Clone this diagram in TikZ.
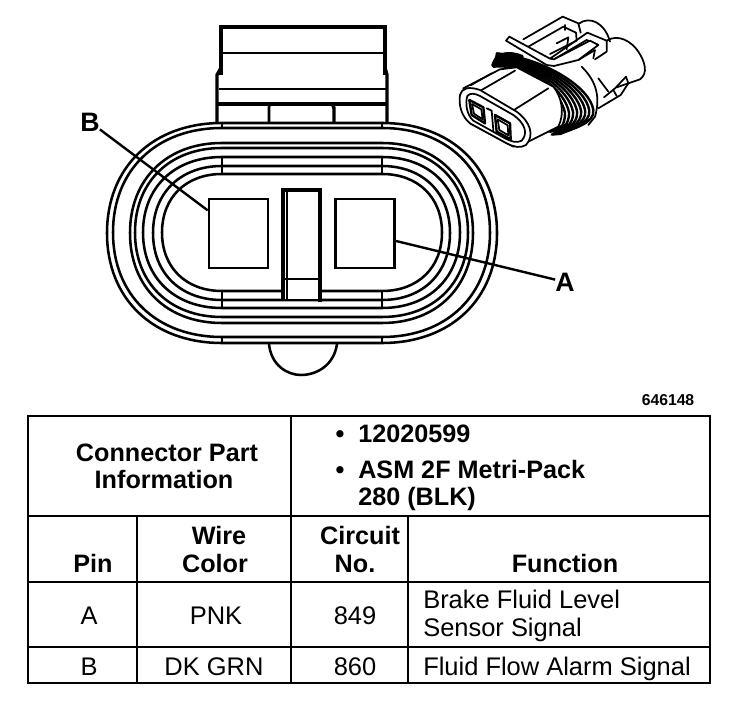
\documentclass[tikz,border=0pt]{standalone}
\usepackage{fontspec}
\setmainfont{Liberation Sans}
\newcommand\ringd[4]{%
 \pgfmathsetmacro\ka{222-0.6*(222-#1)}%
 \pgfmathsetmacro\kb{382+0.6*(#2-382)}%
 \pgfmathsetmacro\my{(#3+#4)/2}%
 \pgfmathsetmacro\kc{\my-0.6*(\my-#3)}%
 \pgfmathsetmacro\kd{\my+0.6*(#4-\my)}%
 \draw[ringline] (222,#3) -- (382,#3) .. controls (\kb,#3) and (#2,\kc) .. (#2,\my) .. controls (#2,\kd) and (\kb,#4) .. (382,#4) -- (222,#4) .. controls (\ka,#4) and (#1,\kd) .. (#1,\my) .. controls (#1,\kc) and (\ka,#3) .. cycle;}
\tikzset{
 ringline/.style={line width=1.9pt},
 heavy/.style={line width=2.6pt},
 medium/.style={line width=1.9pt},
 thin line/.style={line width=1.1pt},
 grid line/.style={line width=2.1pt},
 pinbox/.style={draw,line width=2pt,minimum width=44.25pt,minimum height=51.75pt,inner sep=0pt},
 calllabel/.style={font=\fontsize{20}{20}\selectfont\bfseries,inner sep=0pt},
 leader/.style={line width=1.8pt},
 headtext/.style={anchor=base,inner sep=0pt,font=\fontsize{18.9}{20}\selectfont\bfseries},
 celltext/.style={anchor=base,inner sep=0pt,font=\fontsize{19.1}{20}\selectfont},
 headleft/.style={headtext,anchor=base west},
 cellleft/.style={celltext,anchor=base west},
 codetext/.style={anchor=base,inner sep=0pt,font=\fontsize{11.8}{12}\selectfont\bfseries},
 sketch/.style={line width=1.3pt,line join=round,line cap=round},
 sketchthick/.style={line width=1.8pt,line join=round,line cap=round},
}
\begin{document}
\begin{tikzpicture}[x=0.75pt,y=-0.75pt]
\useasboundingbox (0,0) rectangle (752,712);
% rings
\ringd{107}{497}{123}{343}
\ringd{113}{490}{128}{337}
\ringd{130}{473}{143}{323}
\ringd{135}{468}{148}{317}
\ringd{143}{460}{157}{308}
\ringd{153}{450}{166}{300}
\ringd{162}{442}{174}{291}
% ticks
\foreach \xx in {222,382}{
 \draw[thin line] (\xx,123) -- (\xx,128);
 \draw[thin line] (\xx,157) -- (\xx,174);
 \draw[thin line] (\xx,291) -- (\xx,308);
 \draw[thin line] (\xx,337) -- (\xx,343);
}
% top tab
\draw[heavy] (221,75) -- (221,27) -- (385,27) -- (385,75);
\draw[heavy] (217,123) -- (217,75) -- (221,68);
\draw[heavy] (387,123) -- (387,75) -- (385,68);
\draw[medium] (221,53) -- (385,53);
\draw[medium] (219,89) -- (386,89);
\draw[heavy] (217,104) -- (387,104);
\draw[medium] (269,123) -- (269,107) .. controls (269,105) and (270,104) .. (272,104);
\draw[heavy] (334,123) -- (334,108) .. controls (334,105) and (332,104) .. (330,104);
% bottom bump
\draw[medium] (269,344) .. controls (271,365) and (287,375) .. (301,375) .. controls (317,375) and (334,365) .. (337,344);
% centre post
\fill[white] (283,190) rectangle (320,300);
\draw[heavy] (283,300) -- (283,190) -- (320,190) -- (320,300);
\draw[heavy] (320,300) -- (320,302);
\draw[thin line] (287,192) -- (287,300);
\draw[medium] (283,279) -- (320,279);
\draw[medium] (283,300) -- (320,300);
% pins
\node[pinbox,fill=white] (pinB) at (238.5,233.5) {};
\node[pinbox,fill=white] (pinA) at (365,233.5) {};
% callouts
\node[calllabel] (labelB) at (90,122) {B};
\node[calllabel] (labelA) at (565,282) {A};
\draw[leader] (labelB) -- (pinB);
\draw[leader] (pinA) -- (labelA);
% thumbnail
\begin{scope}[shift={(450,10)},x=0.25pt,y=-0.25pt]
 % back cylinder
 \draw[sketch] (470,92) .. controls (505,70) and (545,95) .. (565,125) .. controls (585,155) and (595,190) .. (570,208) -- (500,232);
 \draw[sketch] (385,42) .. controls (420,15) and (465,40) .. (480,95);
 % latch structure
 \draw[sketch] (220,88) -- (338,20) -- (385,40) -- (392,68);
 \draw[sketch] (235,110) -- (340,50) -- (378,68) -- (380,92) -- (300,132);
 \draw[sketch] (320,100) -- (355,82) -- (350,118);
 \draw[sketch] (345,60) -- (345,45);
 \draw[sketch] (300,146) -- (412,68) -- (470,92) -- (470,125) -- (435,148);
 \draw[sketch] (312,148) -- (410,90) -- (445,105);
 \draw[sketch] (385,150) -- (435,120) -- (430,145);
 % collar behind rings
 \draw[sketch] (395,170) .. controls (430,205) and (455,250) .. (435,320);
 \draw[sketch] (435,320) -- (415,345);
 \draw[sketch] (445,205) -- (475,245);
 % wire clip
 \draw[sketch] (462,262) -- (495,235) -- (528,200) -- (535,220) -- (512,255) -- (470,280) -- (445,295);
 \draw[sketch] (490,240) -- (500,258);
 % rings
 \foreach \o in {0,0.143,0.286,0.429,0.571,0.714,0.857,1}{
  \draw[sketchthick] (130+10*\o,170-40*\o) .. controls (250+30*\o,160-15*\o) and (335+85*\o,250-20*\o) .. (345+85*\o,310-10*\o) .. controls (345+90*\o,345-5*\o) and (330+40*\o,362-7*\o) .. (305+25*\o,374-2*\o);
 }
 \draw[line width=3pt,line cap=round] (130,165) .. controls (140,130) and (175,125) .. (215,140);
 \draw[line width=3.4pt,line cap=round] (300,362) -- (350,348);
 % flat bar
 \draw[sketch,fill=white] (168,92) -- (178,80) -- (300,146) -- (312,148) -- (420,92) -- (445,105) -- (385,150) -- (312,168) -- (290,165) -- cycle;
 % body
 \draw[sketch,fill=white] (40,235) -- (150,178) -- (200,172) -- (310,230) .. controls (335,260) and (345,310) .. (325,350) -- (235,395) -- (190,410) -- (60,340) -- cycle;
 % front face
 \draw[sketch,fill=white] (30,255) .. controls (35,235) and (55,228) .. (90,240) -- (200,305) .. controls (240,335) and (255,375) .. (228,405) .. controls (210,415) and (195,412) .. (170,400) -- (60,340) .. controls (35,320) and (25,285) .. (30,255) -- cycle;
 \draw[sketch] (52,258) .. controls (60,248) and (75,250) .. (90,258) -- (190,315) .. controls (225,340) and (235,370) .. (215,392) .. controls (200,400) and (185,395) .. (165,385) -- (70,332) .. controls (50,315) and (45,280) .. (52,258) -- cycle;
 % holes
 \draw[sketchthick] (58,270) -- (100,292) -- (105,340) -- (65,315) -- cycle;
 \draw[sketch] (66,282) -- (94,298) -- (98,328) -- (72,311) -- cycle;
 \draw[sketchthick] (135,315) -- (180,340) -- (182,388) -- (140,365) -- cycle;
 \draw[sketch] (143,328) -- (173,346) -- (175,376) -- (148,360) -- cycle;
 \draw[sketch] (110,295) -- (125,302) -- (130,362);
 % body creases
 \draw[sketch] (95,240) -- (195,182);
 \draw[sketch] (62,226) -- (125,190);
 \draw[sketch] (195,298) -- (295,235);
\end{scope}
% code
\node[codetext] (code) at (668,405) {646148};
% table
\draw[grid line] (28,416) rectangle (710,683);
\draw[grid line] (28,516) -- (710,516);
\draw[grid line] (28,582) -- (710,582);
\draw[grid line] (28,647) -- (710,647);
\draw[grid line] (137,516) -- (137,683);
\draw[grid line] (291,416) -- (291,683);
\draw[grid line] (408,516) -- (408,683);
% table text
\node[headtext] (t1) at (167,461) {Connector Part};
\node[headtext] (t2) at (164,488) {Information};
\node[headtext] (b1) at (340,442) {•};
\node[headleft] (t3) at (358,442) {12020599};
\node[headtext] (b2) at (340,478) {•};
\node[headleft] (t4) at (358,478) {ASM 2F Metri-Pack};
\node[headleft] (t5) at (358,505) {280 (BLK)};
\node[headtext] (h1) at (93,572) {Pin};
\node[headtext] (h2) at (219,544) {Wire};
\node[headtext] (h3) at (215,572) {Color};
\node[headtext] (h4) at (360,544) {Circuit};
\node[headtext] (h5) at (355,572) {No.};
\node[headtext] (h6) at (565,572) {Function};
\node[celltext] (c1) at (89,624) {A};
\node[celltext] (c2) at (216,624) {PNK};
\node[celltext] (c3) at (355,624) {849};
\node[cellleft] (c4) at (423,608) {Brake Fluid Level};
\node[cellleft] (c5) at (423,636) {Sensor Signal};
\node[celltext] (c6) at (89,675) {B};
\node[celltext] (c7) at (214,675) {DK GRN};
\node[celltext] (c8) at (355,675) {860};
\node[cellleft] (c9) at (423,675) {Fluid Flow Alarm Signal};
\end{tikzpicture}
\end{document}
